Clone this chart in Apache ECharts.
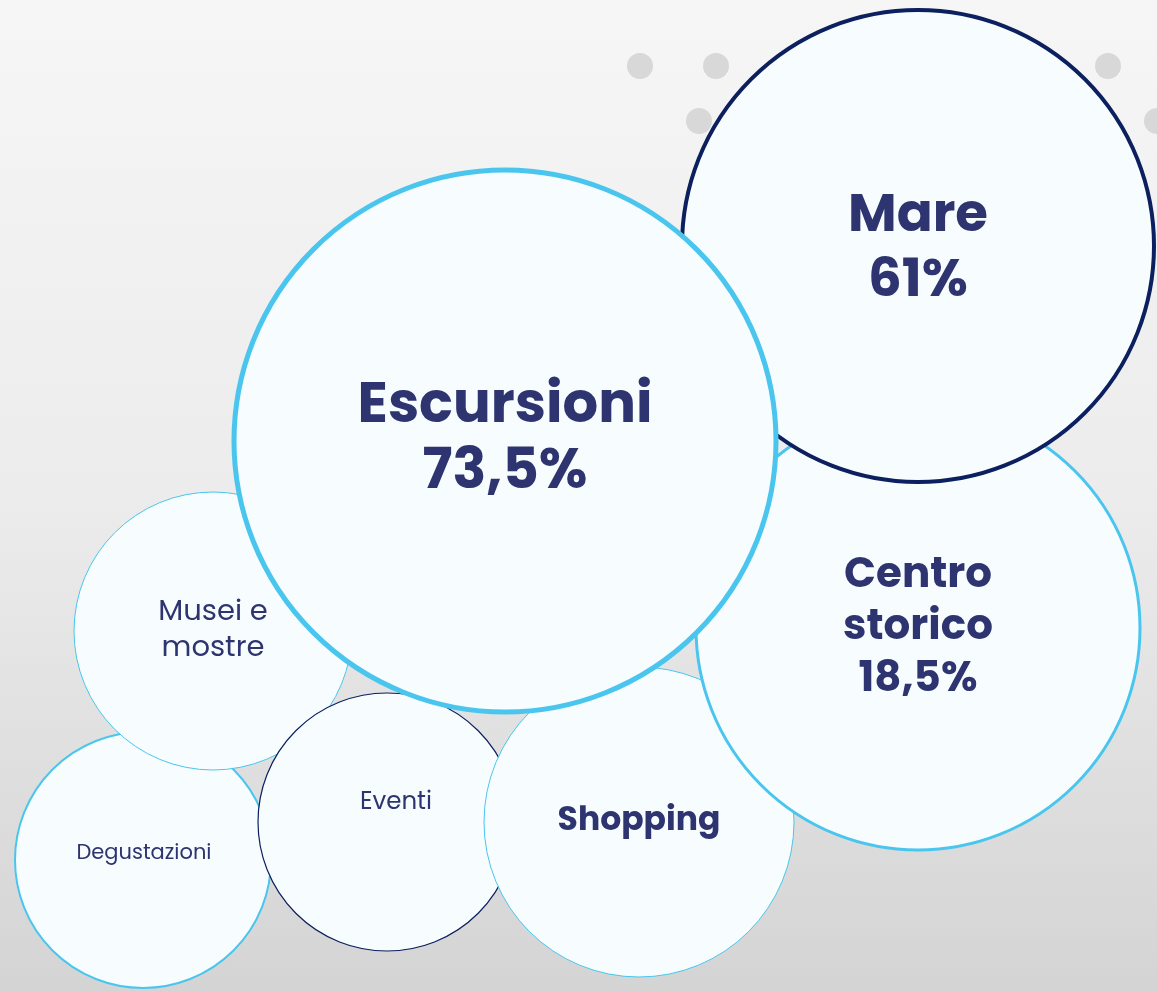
<!DOCTYPE html>
<html>
<head>
<meta charset="utf-8">
<script src="https://cdn.jsdelivr.net/npm/echarts@6/dist/echarts.min.js"></script>
<style>
  html, body { margin: 0; padding: 0; }
  #bubbles { width: 1157px; height: 992px; }
</style>
</head>
<body>
<div id="bubbles"></div>
<script>
// Categories, drawn bottom to top
var categories = ['Degustazioni', 'Musei e\nmostre', 'Eventi', 'Shopping', 'Centro\nstorico', 'Mare', 'Escursioni'];
var percentages = [null, null, null, null, '18,5%', '61%', '73,5%'];

// Bubble layout (axis units)
var bubbleX = [143, 213, 387, 639, 918, 918, 505];
var bubbleY = [860, 631, 822, 822, 628, 246, 441];
var bubbleR = [128, 139, 129, 155, 222, 236, 271];

// Decorative dots
var dotX = [640, 716, 699, 1108, 1157];
var dotY = [66, 66, 121, 66, 121];

var textColor = '#2e346f';
var lightBlue = '#4ac6ee';
var navy = '#0c1f5e';

var styles = [
    {border: lightBlue, width: 2, size: 21, weight: 'normal', lh: 26, off: [1, -6]},
    {border: lightBlue, width: 1, size: 29, weight: 'normal', lh: 36, off: [0, 0]},
    {border: navy, width: 1.2, size: 24.5, weight: 'normal', lh: 30, off: [9, -19]},
    {border: lightBlue, width: 1, size: 33, weight: 'bold', lh: 38, off: [0, 0]},
    {border: lightBlue, width: 3, size: 42, weight: 'bold', lh: 52, off: [0, 0]},
    {border: navy, width: 4, size: 53, weight: 'bold', lh: 65, off: [0, 4]},
    {border: lightBlue, width: 5, size: 56, weight: 'bold', lh: 66, off: [0, 0]}
];

var el = document.getElementById('bubbles');
var chart = echarts.init(el);

var bubbleData = categories.map(function (name, i) {
    var s = styles[i];
    var text = percentages[i] ? name + '\n' + percentages[i] : name;
    return {
        name: name,
        value: [bubbleX[i], bubbleY[i]],
        symbolSize: bubbleR[i] * 2,
        itemStyle: {
            color: '#f7fdfe',
            opacity: 1,
            borderColor: s.border,
            borderWidth: s.width
        },
        label: {
            show: true,
            position: 'inside',
            formatter: text,
            offset: s.off,
            color: textColor,
            fontSize: s.size,
            fontWeight: s.weight,
            lineHeight: s.lh,
            align: 'center'
        }
    };
});

var dotData = dotX.map(function (x, i) {
    return [x, dotY[i]];
});

chart.setOption({
    animation: false,
    backgroundColor: {
        type: 'linear',
        x: 0, y: 0, x2: 0, y2: 1,
        colorStops: [
            {offset: 0, color: '#f6f6f6'},
            {offset: 0.5, color: '#ececec'},
            {offset: 1, color: '#d4d4d4'}
        ]
    },
    textStyle: {
        fontFamily: 'Poppins, Inter, "Open Sans", sans-serif'
    },
    grid: {left: 0, right: 0, top: 0, bottom: 0},
    xAxis: {type: 'value', min: 0, max: 1157, show: false},
    yAxis: {type: 'value', min: 0, max: 992, inverse: true, show: false},
    series: [{
        type: 'scatter',
        silent: true,
        symbolSize: 26,
        itemStyle: {color: '#d8d8d8', opacity: 1},
        data: dotData,
        z: 1
    }, {
        type: 'scatter',
        silent: true,
        data: bubbleData,
        z: 2
    }]
});
</script>
</body>
</html>
